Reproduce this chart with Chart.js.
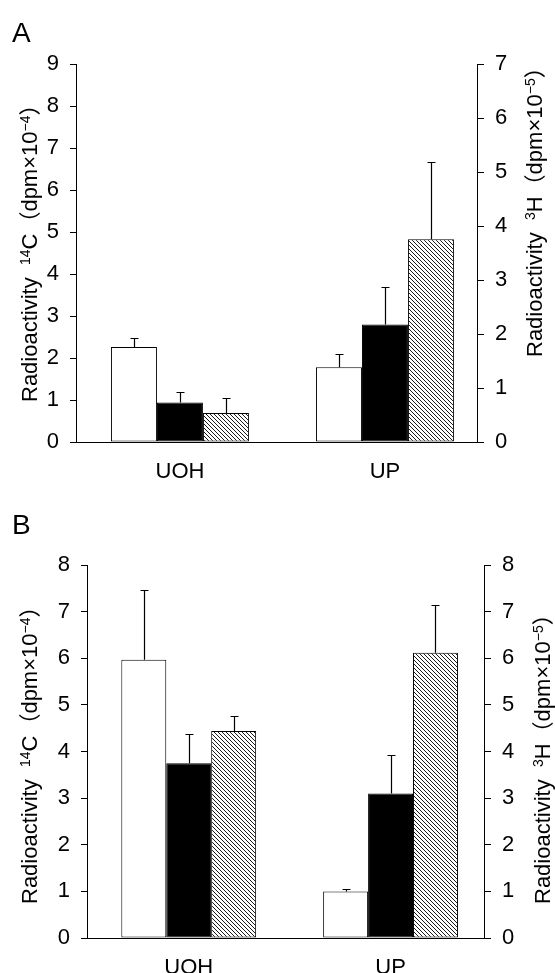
<!DOCTYPE html>
<html><head><meta charset="utf-8">
<script src="https://cdn.jsdelivr.net/npm/chart.js@4.4.1/dist/chart.umd.min.js"></script>
<style>
html,body{margin:0;padding:0;background:#fff;}
#wrapA{position:absolute;left:0;top:0;width:555px;height:490px;}
#wrapB{position:absolute;left:0;top:490px;width:555px;height:483px;}
</style></head><body>
<div id="wrapA"><canvas id="cA"></canvas></div>
<div id="wrapB"><canvas id="cB"></canvas></div>
<script>
// ---------- data ----------
const categories = ['UOH', 'UP'];
// Panel A (left axis 14C, 0-9; right axis 3H, 0-7)
const aOpen = [2.26, 1.78];
const aOpenErr = [0.22, 0.32];
const aSolid = [0.94, 2.80];
const aSolidErr = [0.24, 0.88];
const aHatched = [0.69, 4.83];
const aHatchedErr = [0.36, 1.84];
const aLeftMax = 9;
const aRightMax = 7;
// Panel B (left axis 14C, 0-8; right axis 3H, 0-8)
const bOpen = [5.97, 1.00];
const bOpenErr = [1.50, 0.06];
const bSolid = [3.75, 3.10];
const bSolidErr = [0.63, 0.83];
const bHatched = [4.44, 6.12];
const bHatchedErr = [0.33, 1.03];
const bLeftMax = 8;
const bRightMax = 8;

const FONT = "'Liberation Sans', Arial, 'Noto Sans CJK JP', sans-serif";

function makeHatch(period) {
  const c = document.createElement('canvas');
  c.width = period; c.height = period;
  const g = c.getContext('2d');
  g.fillStyle = '#fff'; g.fillRect(0, 0, period, period);
  g.strokeStyle = '#000'; g.lineWidth = 0.9;
  g.beginPath();
  g.moveTo(-1, -1); g.lineTo(period + 1, period + 1);
  g.moveTo(-1, period - 1); g.lineTo(1, period + 1);
  g.moveTo(period - 1, -1); g.lineTo(period + 1, 1);
  g.stroke();
  return g.createPattern(c, 'repeat');
}

const errorBarPlugin = {
  id: 'errorBars',
  afterDatasetsDraw(chart) {
    const ctx = chart.ctx;
    const ys = chart.scales.y;
    ctx.save();
    ctx.strokeStyle = '#000';
    ctx.lineWidth = 1.2;
    chart.data.datasets.forEach((ds, di) => {
      const meta = chart.getDatasetMeta(di);
      meta.data.forEach((el, i) => {
        const v = ds.data[i].y, e = ds.errors[i];
        const x = Math.round(el.x) + 0.5;
        const y0 = el.y;
        const y1 = Math.round(ys.getPixelForValue(v + e)) + 0.5;
        ctx.beginPath();
        ctx.moveTo(x, y0); ctx.lineTo(x, y1);
        ctx.moveTo(x - 4, y1); ctx.lineTo(x + 4, y1);
        ctx.stroke();
      });
    });
    ctx.restore();
  }
};

function drawVTitle(ctx, parts, baseX, startY) {
  ctx.save();
  ctx.translate(baseX, startY);
  ctx.rotate(-Math.PI / 2);
  ctx.fillStyle = '#000';
  ctx.textBaseline = 'alphabetic';
  ctx.textAlign = 'left';
  let x = 0;
  parts.forEach(p => {
    ctx.font = (p.sup ? '14px ' : '22px ') + FONT;
    ctx.fillText(p.t, x, p.sup ? -7 : 0);
    x += ctx.measureText(p.t).width;
  });
  ctx.restore();
}

const titlePlugin = {
  id: 'vtitles',
  afterDraw(chart, args, opts) {
    const ctx = chart.ctx;
    drawVTitle(ctx, opts.left.parts, opts.left.x, opts.left.y);
    drawVTitle(ctx, opts.right.parts, opts.right.x, opts.right.y);
    ctx.save();
    ctx.font = '28px ' + FONT;
    ctx.fillStyle = '#000';
    ctx.textBaseline = 'alphabetic';
    ctx.fillText(opts.letter.t, opts.letter.x, opts.letter.y);
    ctx.restore();
  }
};

const leftParts = [{t: 'Radioactivity  '}, {t: '14', sup: true}, {t: 'C（dpm×10'}, {t: '−4', sup: true}, {t: '）'}];
const rightParts = [{t: 'Radioactivity  '}, {t: '3', sup: true}, {t: 'H（dpm×10'}, {t: '−5', sup: true}, {t: '）'}];

function makePanel(id, g) {
  const hatch = makeHatch(4);
  const toXY = arr => arr.map((v, i) => ({x: i, y: v}));
  const common = {borderColor: '#000', borderWidth: 1, borderSkipped: false,
                  categoryPercentage: g.catPct, barPercentage: 1.0};
  const yGrid = {drawOnChartArea: false, drawTicks: true, tickLength: 6, color: '#000', lineWidth: 1};
  const tickFont = {family: FONT, size: 22};
  new Chart(document.getElementById(id), {
    type: 'bar',
    data: {
      datasets: [
        Object.assign({data: toXY(g.open), errors: g.openErr, backgroundColor: '#fff'}, common),
        Object.assign({data: toXY(g.solid), errors: g.solidErr, backgroundColor: '#000'}, common),
        Object.assign({data: toXY(g.hatched), errors: g.hatchedErr, backgroundColor: hatch}, common)
      ]
    },
    options: {
      responsive: true, maintainAspectRatio: false, animation: false,
      layout: {padding: {top: g.padTop, left: 0, right: 0, bottom: 0}},
      plugins: {
        legend: {display: false}, tooltip: {enabled: false},
        vtitles: {left: {parts: leftParts, x: 37, y: g.leftTitleY},
                  right: {parts: rightParts, x: g.rightTitleX, y: g.rightTitleY},
                  letter: {t: g.letter, x: 12, y: g.letterY}}
      },
      scales: {
        x: {
          type: 'linear', bounds: 'data', min: g.xMin, max: g.xMax, offset: false,
          grid: {display: false, drawTicks: false},
          border: {display: true, color: '#000', width: 1},
          afterBuildTicks: s => { s.ticks = categories.map((c, i) => ({value: i})); },
          ticks: {autoSkip: false, maxRotation: 0, padding: 17, color: '#000', font: tickFont,
                  callback: v => categories[v]},
          afterFit: s => { s.height = g.xH; }
        },
        y: {
          position: 'left', min: 0, max: g.leftMax,
          grid: yGrid, border: {display: true, color: '#000', width: 1},
          ticks: {stepSize: 1, padding: 11, color: '#000', font: tickFont},
          afterFit: s => { s.width = g.leftW; }
        },
        y2: {
          position: 'right', min: 0, max: g.rightMax,
          grid: Object.assign({}, yGrid, {tickLength: 7}), border: {display: true, color: '#000', width: 1},
          ticks: {stepSize: 1, padding: 11, color: '#000', font: tickFont},
          afterFit: s => { s.width = g.rightW; }
        }
      }
    },
    plugins: [errorBarPlugin, titlePlugin]
  });
}

makePanel('cA', {
  open: aOpen, openErr: aOpenErr, solid: aSolid, solidErr: aSolidErr, hatched: aHatched, hatchedErr: aHatchedErr,
  leftMax: aLeftMax, rightMax: aRightMax, catPct: 0.673,
  xMin: -0.507, xMax: 1.449, leftW: 76, rightW: 78, padTop: 64, xH: 48,
  leftTitleY: 402, rightTitleX: 542, rightTitleY: 357, letter: 'A', letterY: 42
});
makePanel('cB', {
  open: bOpen, openErr: bOpenErr, solid: bSolid, solidErr: bSolidErr, hatched: bHatched, hatchedErr: bHatchedErr,
  leftMax: bLeftMax, rightMax: bRightMax, catPct: 0.668,
  xMin: -0.504, xMax: 1.463, leftW: 87, rightW: 71, padTop: 75, xH: 35,
  leftTitleY: 414, rightTitleX: 550, rightTitleY: 414, letter: 'B', letterY: 44
});
</script>
</body></html>
